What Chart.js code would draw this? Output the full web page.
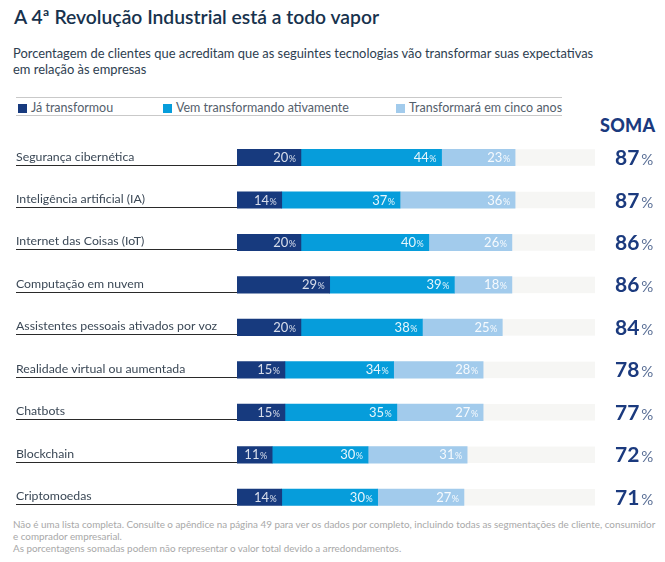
<!DOCTYPE html>
<html>
<head>
<meta charset="utf-8">
<script src="https://cdn.jsdelivr.net/npm/chart.js@4.4.1/dist/chart.umd.min.js"></script>
<style>
  html, body { margin:0; padding:0; background:#fff; }
  body { width:665px; height:562px; position:relative; overflow:hidden; font-family: Lato, "Open Sans", sans-serif; }
  #chart { position:absolute; left:0; top:0; }
  .t { position:absolute; white-space:nowrap; }
  #title { left:14px; top:5px; font-size:19.3px; color:#17324d; font-weight:600; }
  #sub { left:13px; top:46px; font-size:12.9px; color:#2d3e50; line-height:15.5px; }
  #legend { position:absolute; left:16px; top:97px; width:546px; height:17px; border-top:1px solid #c9c9c9; border-bottom:1px solid #c9c9c9; }
  .li { position:absolute; top:2px; font-size:12.5px; color:#54606c; white-space:nowrap; }
  .sw { display:inline-block; width:9px; height:9px; margin-right:4px; vertical-align:-1px; }
  #soma { left:600px; top:114px; font-size:18px; font-weight:900; color:#1b3a7e; letter-spacing:0.3px; }
  #foot { left:13px; top:518px; font-size:9.85px; color:#a8a8a8; line-height:12.2px; }
</style>
</head>
<body>
<div class="t" id="title">A 4ª Revolução Industrial está a todo vapor</div>
<div class="t" id="sub">Porcentagem de clientes que acreditam que as seguintes tecnologias vão transformar suas expectativas<br>em relação às empresas</div>
<div id="legend"></div>
<div class="t" id="soma">SOMA</div>
<div class="t" id="foot">Não é uma lista completa. Consulte o apêndice na página 49 para ver os dados por completo, incluindo todas as segmentações de cliente, consumidor<br>e comprador empresarial.<br>As porcentagens somadas podem não representar o valor total devido a arredondamentos.</div>
<canvas id="chart" width="665" height="562"></canvas>
<script>
const categories = ["Segurança cibernética","Inteligência artificial (IA)","Internet das Coisas (IoT)","Computação em nuvem","Assistentes pessoais ativados por voz","Realidade virtual ou aumentada","Chatbots","Blockchain","Criptomoedas"];
const seriesNames = ["Já transformou","Vem transformando ativamente","Transformará em cinco anos"];
const jaTransformou = [20,14,20,29,20,15,15,11,14];
const vemTransformando = [44,37,40,39,38,34,35,30,30];
const emCincoAnos = [23,36,26,18,25,28,27,31,27];
const totals = [87,87,86,86,84,78,77,72,71];
const colors = ["#173a7e","#069ddb","#a2cbec"];
const axisMax = 112;

// legend
const legendPos = [2, 147, 380];
const lg = document.getElementById('legend');
seriesNames.forEach((n,i)=>{
  const d = document.createElement('div');
  d.className='li'; d.style.left = legendPos[i]+'px';
  d.innerHTML = '<span class="sw" style="background:'+colors[i]+'"></span>'+n;
  lg.appendChild(d);
});

const FONT = 'Lato, "Open Sans", sans-serif';
const barThick = 16.5;

const deco = {
  id:'deco',
  beforeDatasetsDraw(chart){
    const ctx = chart.ctx, ca = chart.chartArea, ys = chart.scales.y;
    ctx.save();
    ctx.fillStyle = '#f6f6f4';
    categories.forEach((c,i)=>{
      const y = ys.getPixelForValue(i);
      ctx.fillRect(ca.left, y - barThick/2, ca.right - ca.left, barThick);
    });
    ctx.restore();
  },
  afterDatasetsDraw(chart){
    const ctx = chart.ctx, ca = chart.chartArea, ys = chart.scales.y;
    ctx.save();
    chart.data.datasets.forEach((ds, di)=>{
      const meta = chart.getDatasetMeta(di);
      meta.data.forEach((bar, i)=>{
        const v = ds.data[i];
        const xr = bar.x - 5;
        const y = bar.y + 4.5;
        ctx.textBaseline = 'alphabetic';
        ctx.textAlign = 'right';
        ctx.fillStyle = di===0 ? 'rgba(225,230,240,0.95)' : 'rgba(255,255,255,0.9)';
        ctx.font = '9px ' + FONT;
        const pw = ctx.measureText('%').width;
        ctx.fillText('%', xr, y);
        ctx.font = '13px ' + FONT;
        ctx.fillText(String(v), xr - pw - 0.5, y);
      });
    });
    categories.forEach((c,i)=>{
      const y = ys.getPixelForValue(i);
      ctx.textAlign='left'; ctx.textBaseline='alphabetic';
      ctx.fillStyle = '#3b4856';
      ctx.font = '12.3px ' + FONT;
      ctx.fillText(c, 16, y + 3);
      ctx.fillStyle = '#2a2a2a';
      ctx.fillRect(16, Math.round(y + 7), ca.left - 16, 1);
      ctx.font = 'bold 21px ' + FONT;
      ctx.fillStyle = '#1b3a7e';
      ctx.fillText(String(totals[i]), 615, y + 7.5);
      const w = ctx.measureText(String(totals[i])).width;
      ctx.font = '15px ' + FONT;
      ctx.fillStyle = '#5a6f96';
      ctx.fillText('%', 615 + w + 2, y + 7.5);
    });
    ctx.restore();
  }
};

new Chart(document.getElementById('chart'), {
  type:'bar',
  data:{
    labels: categories,
    datasets:[
      {label:seriesNames[0], data:jaTransformou, backgroundColor:colors[0]},
      {label:seriesNames[1], data:vemTransformando, backgroundColor:colors[1]},
      {label:seriesNames[2], data:emCincoAnos, backgroundColor:colors[2]}
    ]
  },
  options:{
    indexAxis:'y',
    responsive:false,
    animation:false,
    layout:{padding:{left:237, right:70, top:136.3, bottom:43.5}},
    datasets:{bar:{barThickness:barThick, borderWidth:0, borderSkipped:false}},
    scales:{
      x:{stacked:true, min:0, max:axisMax, display:false},
      y:{stacked:true, display:false, grid:{display:false}}
    },
    plugins:{legend:{display:false}, tooltip:{enabled:false}}
  },
  plugins:[deco]
});
</script>
</body>
</html>
